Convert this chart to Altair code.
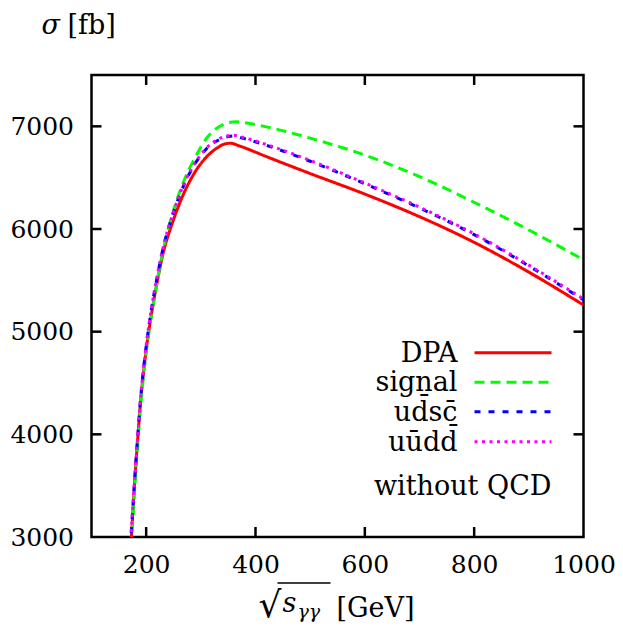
import altair as alt
import pandas as pd

# ---------------- data ----------------
x_dpa = [172, 180, 185, 190, 200, 210, 220, 230, 250, 270, 290, 310, 330, 345, 355, 370, 420, 500, 600, 700, 800, 900, 1000]
y_dpa = [2900, 3620, 3990, 4330, 4820, 5180, 5480, 5740, 6090, 6360, 6560, 6700, 6790, 6830, 6835, 6810, 6705, 6540, 6340, 6120, 5870, 5580, 5260]

x_sig = [173, 180, 185, 190, 200, 210, 220, 230, 250, 270, 290, 310, 330, 350, 365, 380, 420, 500, 600, 700, 800, 900, 1000]
y_sig = [2900, 3550, 3930, 4280, 4790, 5170, 5490, 5770, 6180, 6480, 6700, 6880, 6985, 7035, 7045, 7035, 6995, 6885, 6720, 6510, 6260, 5990, 5700]

x_udsc = [171, 180, 185, 190, 200, 210, 220, 230, 250, 270, 290, 310, 330, 350, 360, 380, 420, 500, 600, 700, 800, 900, 1000]
y_udsc = [2900, 3640, 4010, 4360, 4860, 5230, 5530, 5790, 6160, 6440, 6640, 6780, 6860, 6900, 6905, 6880, 6815, 6660, 6440, 6205, 5945, 5640, 5310]

x_uudd = [171, 180, 185, 190, 200, 210, 220, 230, 250, 270, 290, 310, 330, 350, 360, 380, 420, 500, 600, 700, 800, 900, 1000]
y_uudd = [2900, 3645, 4015, 4365, 4868, 5238, 5538, 5798, 6168, 6448, 6648, 6788, 6868, 6908, 6912, 6888, 6823, 6668, 6448, 6213, 5953, 5648, 5318]

series_names = ["DPA", "signal", "ud\u0304sc\u0304", "u\u016bdd\u0304"]
series_colors = ["#ff0000", "#00ff00", "#0000ff", "#ff00ff"]
series_dashes = [[1, 0], [10, 6], [6, 8], [3, 4.5]]

x_ticks = [200, 400, 600, 800, 1000]
x_minor_ticks = [200, 400, 600, 800]
y_ticks = [3000, 4000, 5000, 6000, 7000]
y_minor_ticks = [4000, 5000, 6000, 7000]

W, H = 492, 462
FONT = "DejaVu Serif"
FS = 25      # tick labels
FL = 27      # legend / titles

xscale = alt.Scale(domain=[100, 1000], nice=False, zero=False)
yscale = alt.Scale(domain=[3000, 7500], nice=False, zero=False)

xaxis = alt.Axis(values=x_ticks, title=None, grid=False, ticks=False, domain=False, format="d",
                 labelFont=FONT, labelFontSize=FS, labelColor="black", labelPadding=15, labelFlush=False)
yaxis = alt.Axis(values=y_ticks, title=None, grid=False, ticks=False, domain=False, format="d",
                 labelFont=FONT, labelFontSize=FS, labelColor="black", labelPadding=18, labelFlush=False)

xs = [x_dpa, x_sig, x_udsc, x_uudd]
ys = [y_dpa, y_sig, y_udsc, y_uudd]

layers = []
for i, (name, col, dash) in enumerate(zip(series_names, series_colors, series_dashes)):
    df = pd.DataFrame({"x": xs[i], "y": ys[i]})
    line = alt.Chart(df).mark_line(
        color=col, strokeWidth=3, strokeDash=dash, clip=True, interpolate="monotone"
    ).encode(x=alt.X("x:Q", scale=xscale, axis=xaxis),
             y=alt.Y("y:Q", scale=yscale, axis=yaxis))
    layers.append(line)

# ---------------- inside ticks on all four sides ----------------
tx = pd.DataFrame({"x": x_minor_ticks})
ty = pd.DataFrame({"y": y_minor_ticks})
TL = 10
tick_style = dict(color="black", strokeWidth=2.5)
layers += [
    alt.Chart(tx).mark_rule(**tick_style).encode(
        x=alt.X("x:Q", scale=xscale, axis=xaxis), y=alt.value(H), y2=alt.value(H - TL)),
    alt.Chart(tx).mark_rule(**tick_style).encode(
        x=alt.X("x:Q", scale=xscale, axis=xaxis), y=alt.value(0), y2=alt.value(TL)),
    alt.Chart(ty).mark_rule(**tick_style).encode(
        y=alt.Y("y:Q", scale=yscale, axis=yaxis), x=alt.value(0), x2=alt.value(TL)),
    alt.Chart(ty).mark_rule(**tick_style).encode(
        y=alt.Y("y:Q", scale=yscale, axis=yaxis), x=alt.value(W), x2=alt.value(W - TL)),
]

# ---------------- legend (manual, labels to the left of samples) ----------------
leg_rows_y = [277.7, 307.3, 336.7, 366.7]
for name, col, dash, yy in zip(series_names, series_colors, series_dashes, leg_rows_y):
    d = pd.DataFrame({"label": [name]})
    layers.append(alt.Chart(d).mark_rule(color=col, strokeWidth=3, strokeDash=dash).encode(
        x=alt.value(383), x2=alt.value(460), y=alt.value(yy)))
    layers.append(alt.Chart(d).mark_text(
        font=FONT, fontSize=FL, align="right", baseline="middle", color="black", dy=1
    ).encode(text="label:N", x=alt.value(366), y=alt.value(yy)))

note = pd.DataFrame({"label": ["without QCD"]})
layers.append(alt.Chart(note).mark_text(
    font=FONT, fontSize=FL, align="right", baseline="middle", color="black"
).encode(text="label:N", x=alt.value(460), y=alt.value(411.7)))

# ---------------- axis titles ----------------
def txt(s, x, y, size=FL, style="normal", align="left"):
    return alt.Chart(pd.DataFrame({"label": [s]})).mark_text(
        font=FONT, fontSize=size, fontStyle=style, align=align, baseline="middle", color="black"
    ).encode(text="label:N", x=alt.value(x), y=alt.value(y))

layers += [
    txt("\u03c3", -50, -49, style="italic"),
    txt("[fb]", -24, -49),
    txt("\u221a", 167, 531, size=36),
    txt("s", 191, 529, style="italic"),
    txt("\u03b3\u03b3", 206, 537, size=19, style="italic"),
    txt("[GeV]", 245, 534),
]
layers.append(alt.Chart(pd.DataFrame({"label": ["bar"]})).mark_rule(color="black", strokeWidth=1.5).encode(
    x=alt.value(186), x2=alt.value(239), y=alt.value(508)))

chart = alt.layer(*layers).properties(
    width=W, height=H,
    autosize=alt.AutoSizeParams(type="none"),
    padding={"left": 91.5, "top": 75, "right": 39.5, "bottom": 94},
    background="white",
).configure_view(stroke="black", strokeWidth=2.5)

chart.save("out.html", embed_options={"renderer": "svg", "actions": False})
